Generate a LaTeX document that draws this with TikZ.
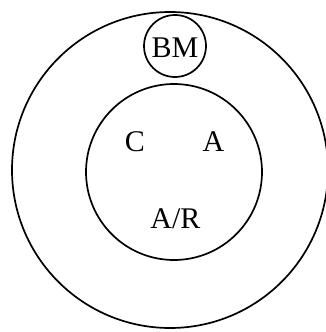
\documentclass[tikz,border=0pt]{standalone}
\usepackage{fontspec}
\setmainfont{Liberation Serif}
\begin{document}
\begin{tikzpicture}[x=1pt,y=-1pt,
  ring/.style={circle,draw,line width=1.7pt,inner sep=0pt},
  lbl/.style={font=\fontsize{30}{32}\selectfont,inner sep=0pt,anchor=base}]
\useasboundingbox (0,0) rectangle (326,332);
\node[ring,minimum size=316pt] (outer) at (170,170) {};
\node[ring,minimum size=176pt] (inner) at (174,172) {};
\node[ring,minimum size=62pt] (bmring) at (175,46) {};
\node[lbl] (bm) at (175,57) {BM};
\node[lbl] (c) at (135,151) {C};
\node[lbl] (a) at (213.5,151) {A};
\node[lbl] (ar) at (175.5,228) {A/R};
\end{tikzpicture}
\end{document}
